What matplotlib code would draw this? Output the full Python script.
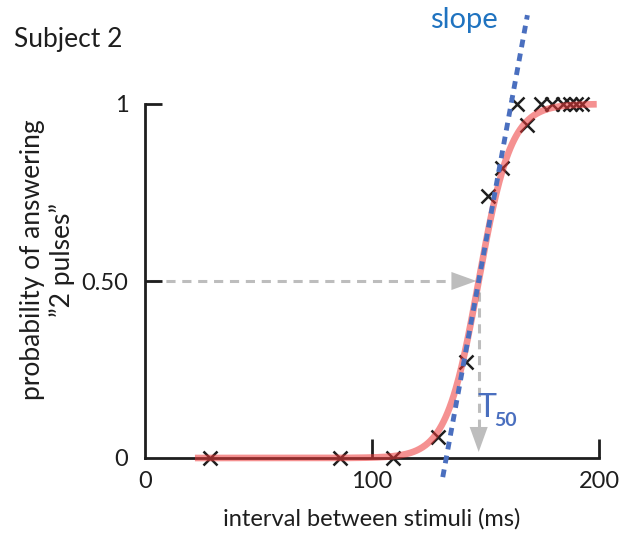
import numpy as np
import matplotlib.pyplot as plt

plt.rcParams['font.family'] = ['Lato', 'DejaVu Sans']

# measured responses: interval (ms) vs. fraction of "2 pulses" answers
interval = [28.6, 85.9, 109.3, 129.1, 141.4, 151.1, 157.3, 163.9, 168.3,
            174.3, 179.5, 184.2, 187.2, 189.7, 192.3]
p_two = [0.0, 0.0, 0.0, 0.06, 0.27, 0.74, 0.82, 1.0, 0.94,
         1.0, 1.0, 1.0, 1.0, 1.0, 1.0]

# logistic fit parameters
t50 = 147.0
k = 0.14
fit_range = [22, 199]

xticks = [0, 100, 200]
xticklabels = ['0', '100', '200']
yticks = [0, 0.5, 1]
yticklabels = ['0', '0.50', '1']

fig = plt.figure(figsize=(6.33, 5.38), dpi=100)
ax = fig.add_axes([145 / 633, 80 / 538, 454 / 633, 354 / 538])

xs = np.linspace(fit_range[0], fit_range[1], 400)
ys = 1 / (1 + np.exp(-k * (xs - t50)))

grey = '#bdbdbd'
blue = '#4a6fbf'
ink = '#1e1e1e'

# guide lines to T50
ax.plot([2, t50 - 6], [0.5, 0.5], color=grey, lw=2.2, ls=(0, (3, 2.2)), zorder=1)
ax.plot([t50, t50], [0.47, 0.08], color=grey, lw=2.2, ls=(0, (3, 2.2)), zorder=1)
head = '-|>,head_length=1.8,head_width=0.65'
ax.annotate('', xy=(t50 - 1, 0.5), xytext=(t50 - 14, 0.5),
            arrowprops=dict(arrowstyle=head, color=grey, lw=0,
                            shrinkA=0, shrinkB=0), zorder=2)
ax.annotate('', xy=(t50, 0.017), xytext=(t50, 0.12),
            arrowprops=dict(arrowstyle=head, color=grey, lw=0,
                            shrinkA=0, shrinkB=0), zorder=2)

ax.plot(interval, p_two, 'x', color=ink, ms=10.5, mew=1.8, zorder=3,
        clip_on=False)
ax.plot(xs, ys, color=(0.93, 0.22, 0.22), alpha=0.55, lw=4.8,
        solid_capstyle='butt', zorder=4, clip_on=False)

# tangent at T50
s = k / 4
y_end = np.array([-0.054, 1.251])
x_end = t50 + (y_end - 0.5) / s
ax.plot(x_end, y_end, color=blue, lw=3.5, ls=(0, (1.6, 1.3)), zorder=5,
        clip_on=False)

ax.text(t50 - 0.5, 0.14, 'T', color=blue, fontsize=23, ha='left', va='center')
ax.text(t50 + 7, 0.105, '50', color=blue, fontsize=14, ha='left',
        va='center', fontweight='bold')
fig.text(430 / 633, 1 - 20 / 538, 'slope', color='#1f73c0', fontsize=21,
         ha='left', va='center')
fig.text(14 / 633, 1 - 40 / 538, 'Subject 2', color=ink, fontsize=19,
         ha='left', va='center')

ax.set_xlim(0, 200)
ax.set_ylim(0, 1)
for side in ['top', 'right']:
    ax.spines[side].set_visible(False)
for side in ['left', 'bottom']:
    ax.spines[side].set_linewidth(2)
    ax.spines[side].set_color(ink)

ax.set_xticks(xticks)
ax.set_xticklabels(xticklabels)
ax.set_yticks(yticks)
ax.set_yticklabels(yticklabels)
ax.tick_params(axis='both', direction='in', width=2, color=ink,
               labelsize=17, labelcolor=ink)
ax.tick_params(axis='x', length=14, pad=9)
ax.tick_params(axis='y', length=12, pad=12)
ax.xaxis.get_major_ticks()[0].tick1line.set_visible(False)
ax.yaxis.get_major_ticks()[0].tick1line.set_visible(False)

ax.set_xlabel('interval between stimuli (ms)', fontsize=17, color=ink,
              labelpad=12)
ax.set_ylabel('probability of answering\n\u201d2 pulses\u201d', fontsize=19,
              color=ink, linespacing=1.2)
ax.yaxis.set_label_coords(-0.155, 0.56)

fig.savefig('out.png', dpi=100)
